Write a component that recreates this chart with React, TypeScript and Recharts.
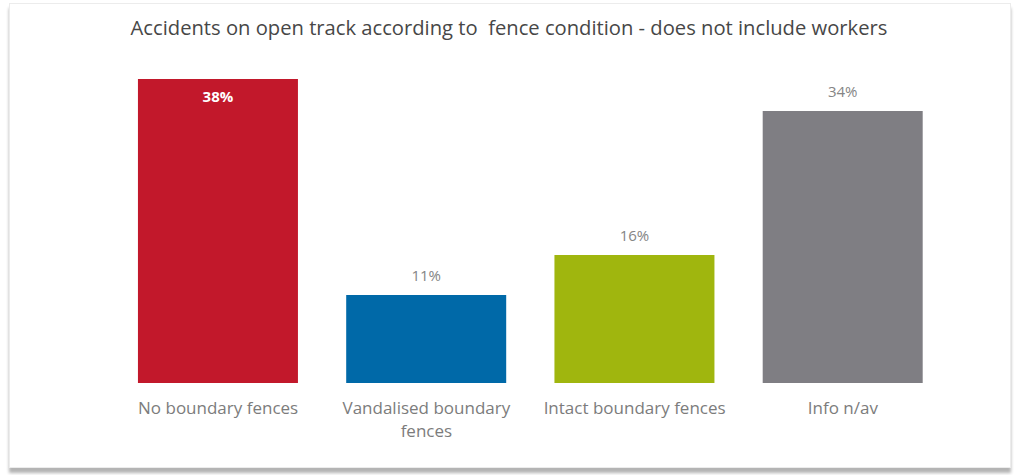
import React from "react";
import { BarChart, Bar, XAxis, YAxis, Cell, LabelList } from "recharts";

const TITLE = "Accidents on open track according to  fence condition - does not include workers";
const CATEGORIES = ["No boundary fences", "Vandalised boundary fences", "Intact boundary fences", "Info n/av"];
const VALUES = [38, 11, 16, 34];
const COLORS = ["#c2182b", "#0069a8", "#a0b60e", "#7f7e83"];

const FONT = "'Open Sans', 'Noto Sans', sans-serif";

const data = CATEGORIES.map((name, i) => ({ name, value: VALUES[i] }));

// greedy word wrap by character count
function wrap(s: string, max: number) {
  const lines: string[] = [];
  let cur = "";
  for (const w of s.split(" ")) {
    const next = cur ? cur + " " + w : w;
    if (next.length > max && cur) {
      lines.push(cur);
      cur = w;
    } else {
      cur = next;
    }
  }
  if (cur) lines.push(cur);
  return lines;
}

function CategoryTick(props: any) {
  const { x, y, payload } = props;
  const lines = wrap(payload.value, 22);
  return (
    <g>
      {lines.map((l, i) => (
        <text
          key={i}
          x={x}
          y={y + 23 + i * 23}
          textAnchor="middle"
          fill="#7c7c7c"
          fontSize={17}
          fontFamily={FONT}
        >
          {l}
        </text>
      ))}
    </g>
  );
}

function ValueLabel(props: any) {
  const { x, y, width, value, index } = props;
  const cx = x + width / 2;
  // the tallest bar carries its label inside, in bold white
  if (index === 0) {
    return (
      <text x={cx} y={y + 23} textAnchor="middle" fill="#ffffff" fontWeight={700} fontSize={15} fontFamily={FONT}>
        {value}%
      </text>
    );
  }
  return (
    <text x={cx} y={y - 14} textAnchor="middle" fill="#858585" fontSize={15} fontFamily={FONT}>
      {value}%
    </text>
  );
}

export default function App() {
  return (
    <div style={{ position: "absolute", left: 0, top: 0, width: 1018, height: 475, background: "#fff" }}>
      <div
        style={{
          position: "absolute",
          left: 9,
          top: 3,
          width: 1000,
          height: 463,
          border: "1px solid #ececec",
          boxShadow: "0 5px 3px #b4b4b4",
          background: "#fff",
        }}
      />
      <div
        style={{
          position: "absolute",
          left: 0,
          top: 13,
          width: 1018,
          textAlign: "center",
          whiteSpace: "pre",
          fontFamily: FONT,
          fontSize: 20.2,
          color: "#474747",
        }}
      >
        {TITLE}
      </div>
      <div style={{ position: "absolute", left: 0, top: 0 }}>
        <BarChart
          width={1018}
          height={475}
          data={data}
          margin={{ top: 79, right: 71, bottom: 32, left: 114 }}
          barCategoryGap="11.5%"
        >
          <XAxis dataKey="name" axisLine={false} tickLine={false} height={60} interval={0} tick={<CategoryTick />} />
          <YAxis hide domain={[0, 38]} />
          <Bar dataKey="value" isAnimationActive={false}>
            {data.map((d, i) => (
              <Cell key={d.name} fill={COLORS[i]} />
            ))}
            <LabelList dataKey="value" content={<ValueLabel />} />
          </Bar>
        </BarChart>
      </div>
    </div>
  );
}
